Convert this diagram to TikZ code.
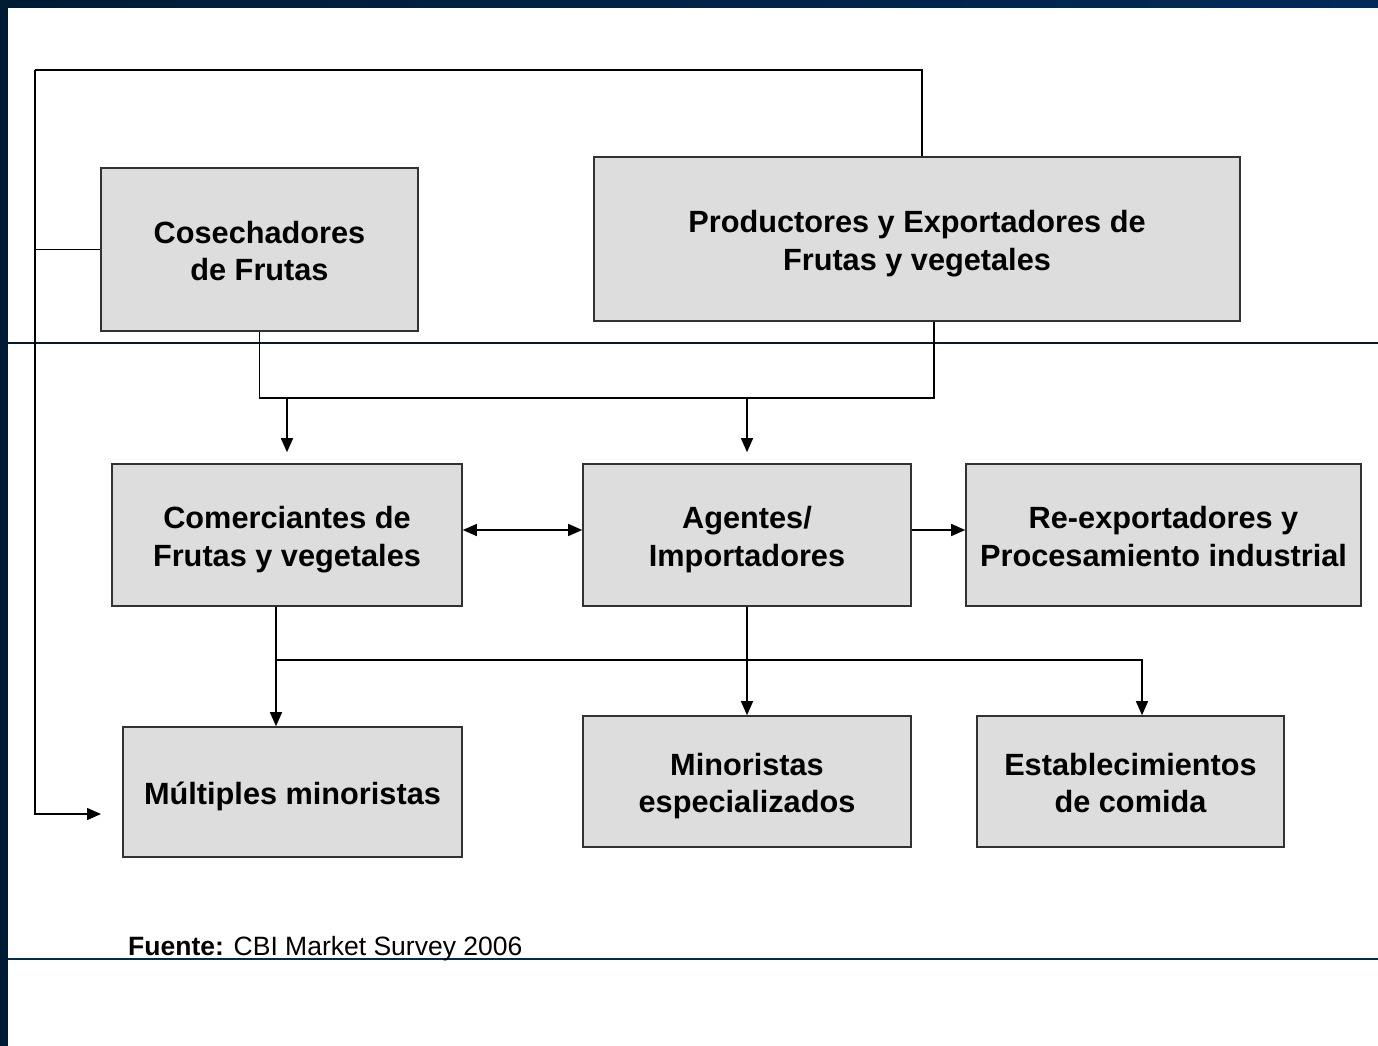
\documentclass[tikz,border=0pt]{standalone}
\usepackage{fontspec}
\setmainfont{Liberation Sans}
\usetikzlibrary{arrows.meta}
\definecolor{navy}{RGB}{0,27,52}
\definecolor{navyb}{RGB}{0,42,88}
\definecolor{boxfill}{RGB}{221,221,221}
\definecolor{boxline}{RGB}{50,50,50}
\newcommand\topst{\rule{0pt}{36.3pt}}
\tikzset{
  box/.style={draw=boxline, line width=1.6pt, fill=boxfill, inner sep=0pt, align=center,
    font=\fontsize{30.7}{37.5}\selectfont\bfseries},
  link/.style={draw=black, line width=1.4pt},
  arr/.style={link, -{Triangle[length=14pt,width=12pt]}},
  darr/.style={link, {Triangle[length=14pt,width=12pt]}-{Triangle[length=14pt,width=12pt]}}
}
\begin{document}
\begin{tikzpicture}[x=1pt,y=-1pt]
\useasboundingbox (0,0) rectangle (1378,1046);
\fill[white] (0,0) rectangle (1378,1046);
% frame
\shade[left color=navy, right color=navyb] (0,0) rectangle (1378,7.5);
\fill[navy] (0,0) rectangle (7.5,1046);
\draw[navy, line width=1.5pt] (7.5,343) -- (1378,343);
\draw[navyb, line width=1.5pt] (7.5,959) -- (1378,959);

% boxes
\node[box, minimum width=317pt, minimum height=163pt] (cos) at (259.5,249.5) {\topst\strut Cosechadores\\\strut de Frutas};
\node[box, minimum width=646pt, minimum height=164pt] (prod) at (917,239) {\topst\strut Productores y Exportadores de\\\strut Frutas y vegetales};
\node[box, minimum width=350pt, minimum height=142pt] (com) at (287,535) {\topst\strut Comerciantes de\\\strut Frutas y vegetales};
\node[box, minimum width=328pt, minimum height=142pt] (ag) at (747,535) {\topst\strut Agentes/\\\strut Importadores};
\node[box, minimum width=395pt, minimum height=142pt] (re) at (1163.5,535) {\topst\strut Re-exportadores y\\\strut Procesamiento industrial};
\node[box, minimum width=339pt, minimum height=130pt] (mul) at (292.5,792) {\topst\strut Múltiples minoristas};
\node[box, minimum width=328pt, minimum height=131pt] (mes) at (747,781.5) {\topst\strut Minoristas\\\strut especializados};
\node[box, minimum width=307pt, minimum height=131pt] (est) at (1130.5,781.5) {\topst\strut Establecimientos\\\strut de comida};

% helper coordinates
\coordinate (xleft) at (35,70);
\coordinate (loopend) at (101,814);
\coordinate (jy) at (0,398);
\coordinate (by) at (0,660);
\coordinate (pn) at ([xshift=5pt]prod.north);
\coordinate (ps) at ([xshift=17pt]prod.south);
\coordinate (cs) at ([xshift=-11pt]com.south);
\coordinate (en) at ([xshift=11.5pt]est.north);

% outer loop
\draw[link] (pn) |- (xleft);
\draw[arr] (xleft) |- (loopend);
\draw[link] (cos.west) -- (cos.west -| xleft);

% top junction
\draw[link] (cos.south) |- (jy -| ps) -- (ps);
\draw[arr, shorten >=11pt] (com.north |- jy) -- (com.north);
\draw[arr, shorten >=11pt] (ag.north |- jy) -- (ag.north);

% middle row
\draw[darr] ([yshift=5pt]com.east) -- ([yshift=5pt]ag.west);
\draw[arr] ([yshift=5pt]ag.east) -- ([yshift=5pt]re.west);

% bottom links
\draw[arr] (cs) -- (cs |- mul.north);
\draw[arr] (cs |- by) -| (en);
\draw[arr] (ag.south) -- (mes.north);

% source
\node[anchor=base west, inner sep=0pt, font=\fontsize{26.5}{32}\selectfont] (src) at (128,955) {\textbf{Fuente:} CBI Market Survey 2006};
\end{tikzpicture}
\end{document}
